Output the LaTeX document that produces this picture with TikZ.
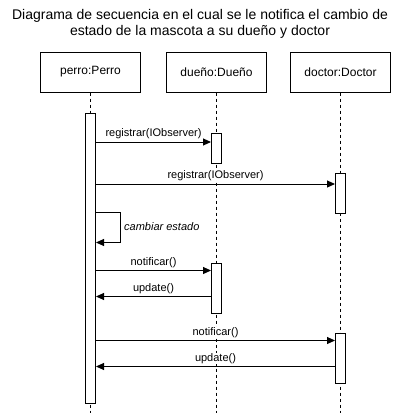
\documentclass[tikz,border=0pt]{standalone}
\usepackage{fontspec}
\setmainfont{Liberation Sans}
\usetikzlibrary{arrows.meta}
\begin{document}
\begin{tikzpicture}[x=1pt,y=-1pt,
  objbox/.style={draw, line width=1pt, fill=white, minimum width=100pt, minimum height=40pt, inner sep=0pt, font=\fontsize{12}{14}\selectfont},
  lifeline/.style={draw, line width=1pt, dash pattern=on 3pt off 3pt},
  actbox/.style={draw, line width=1pt, fill=white},
  msg/.style={line width=1pt, -{Triangle[length=8pt,width=7pt]}},
  msglabel/.style={anchor=base, inner sep=0.5pt, fill=white, font=\fontsize{11}{13}\selectfont}
]
\useasboundingbox (0,0) rectangle (400,413);

% title
\node[anchor=base, inner sep=0pt, font=\fontsize{14}{16}\selectfont] (t1) at (200,19) {Diagrama de secuencia en el cual se le notifica el cambio de};
\node[anchor=base, inner sep=0pt, font=\fontsize{14}{16}\selectfont] (t2) at (200,35) {estado de la mascota a su dueño y doctor};

% object boxes
\node[objbox] (perro) at (90.5,72) {perro:Perro};
\node[objbox] (duenio) at (216.5,72) {dueño:Dueño};
\node[objbox] (doctor) at (340.5,72) {doctor:Doctor};

% lifeline ends
\coordinate (pend) at (90.5,413);
\coordinate (dend) at (216.5,413);
\coordinate (cend) at (340.5,413);
\draw[lifeline] (perro.south) -- (pend);
\draw[lifeline] (duenio.south) -- (dend);
\draw[lifeline] (doctor.south) -- (cend);

% activations
\node[actbox, minimum width=10pt, minimum height=290pt, inner sep=0pt, anchor=north] (pa) at (90.5,112.5) {};
\node[actbox, minimum width=10pt, minimum height=30pt, inner sep=0pt, anchor=north] (da1) at (216.5,132.5) {};
\node[actbox, minimum width=10pt, minimum height=40pt, inner sep=0pt, anchor=north] (ca1) at (340.5,172.5) {};
\node[actbox, minimum width=10pt, minimum height=50pt, inner sep=0pt, anchor=north] (da2) at (216.5,262.5) {};
\node[actbox, minimum width=10pt, minimum height=50pt, inner sep=0pt, anchor=north] (ca2) at (340.5,332.5) {};

% messages
\draw[msg] (pa.east |- 0,142) -- (da1.west |- 0,142);
\node[msglabel] (l1) at (153.5,136.5) {registrar(IObserver)};

\draw[msg] (pa.east |- 0,184) -- (ca1.west |- 0,184);
\node[msglabel] (l2) at (215.5,178.5) {registrar(IObserver)};

\coordinate (s1) at (120.5,212.5);
\coordinate (s2) at (120.5,242.5);
\draw[msg] (pa.east |- s1) -- (s1) -- (s2) -- (pa.east |- s2);
\node[anchor=west, inner sep=0pt, font=\fontsize{11}{13}\selectfont\itshape] (l3) at (124,227) {cambiar estado};

\draw[msg] (pa.east |- 0,270.5) -- (da2.west |- 0,270.5);
\node[msglabel] (l4) at (153.5,265) {notificar()};

\draw[msg] (da2.west |- 0,296.5) -- (pa.east |- 0,296.5);
\node[msglabel] (l5) at (153.5,291) {update()};

\draw[msg] (pa.east |- 0,340.5) -- (ca2.west |- 0,340.5);
\node[msglabel] (l6) at (215.5,335) {notificar()};

\draw[msg] (ca2.west |- 0,366.5) -- (pa.east |- 0,366.5);
\node[msglabel] (l7) at (215.5,361) {update()};
\end{tikzpicture}
\end{document}
